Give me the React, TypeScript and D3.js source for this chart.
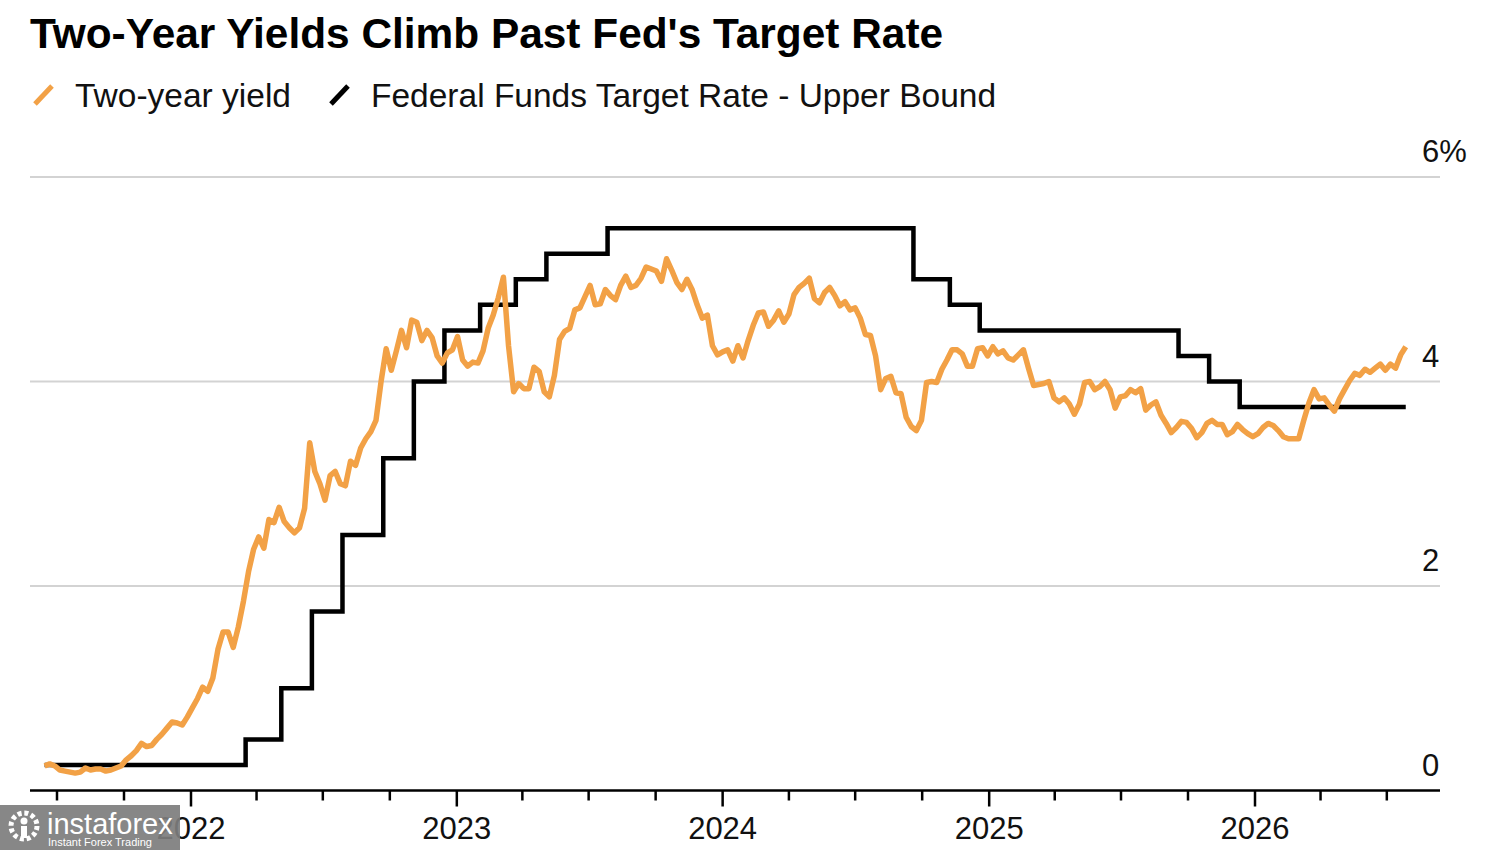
import { useEffect, useRef } from 'react';
import * as d3 from 'd3';

// Two-year Treasury yield, weekly readings starting on the week of 2021-06-14 (%)
const yieldStart = '2021-06-14';
const yieldValues = [
  0.24, 0.26, 0.24, 0.2, 0.19, 0.18, 0.17, 0.18, 0.22, 0.2, 0.21, 0.21, 0.19, 0.2, 0.22, 0.24,
  0.3, 0.34, 0.39, 0.46, 0.43, 0.44, 0.5, 0.55, 0.61, 0.67, 0.66, 0.64, 0.72, 0.81, 0.9, 1.01,
  0.97, 1.1, 1.38, 1.55, 1.55, 1.4, 1.6, 1.85, 2.14, 2.36, 2.48, 2.37, 2.65, 2.62, 2.77, 2.63,
  2.57, 2.52, 2.57, 2.76, 3.4, 3.12, 3.0, 2.84, 3.08, 3.12, 3.0, 2.98, 3.22, 3.18, 3.35, 3.44,
  3.51, 3.62, 4.0, 4.32, 4.11, 4.3, 4.5, 4.33, 4.6, 4.58, 4.4, 4.5, 4.43, 4.25, 4.18, 4.28,
  4.31, 4.44, 4.21, 4.15, 4.19, 4.18, 4.3, 4.52, 4.65, 4.82, 5.02, 4.35, 3.9, 3.98, 3.93, 3.93,
  4.14, 4.1, 3.9, 3.85, 4.06, 4.41, 4.49, 4.52, 4.7, 4.72, 4.83, 4.94, 4.75, 4.76, 4.9, 4.84,
  4.8, 4.94, 5.03, 4.92, 4.94, 5.01, 5.12, 5.1, 5.08, 4.98, 5.2, 5.09, 4.97, 4.9, 5.0, 4.9,
  4.75, 4.62, 4.65, 4.35, 4.26, 4.29, 4.31, 4.2, 4.35, 4.23, 4.4, 4.55, 4.67, 4.68, 4.54, 4.6,
  4.69, 4.58, 4.66, 4.85, 4.92, 4.96, 5.01, 4.81, 4.77, 4.87, 4.92, 4.84, 4.74, 4.78, 4.7, 4.72,
  4.62, 4.46, 4.45, 4.25, 3.92, 4.03, 4.05, 3.89, 3.88, 3.65, 3.56, 3.52, 3.62, 3.99, 4.0, 3.99,
  4.12, 4.21, 4.31, 4.31, 4.27, 4.15, 4.15, 4.32, 4.33, 4.25, 4.34, 4.27, 4.3, 4.23, 4.21, 4.26,
  4.31, 4.13, 3.96, 3.97, 3.98, 4.0, 3.84, 3.8, 3.84, 3.78, 3.68, 3.78, 3.99, 4.0, 3.92, 3.95,
  4.0, 3.92, 3.74, 3.85, 3.86, 3.92, 3.89, 3.93, 3.72, 3.77, 3.8, 3.67, 3.59, 3.5, 3.55, 3.61,
  3.6, 3.54, 3.45, 3.5, 3.59, 3.62, 3.58, 3.58, 3.48, 3.51, 3.58, 3.53, 3.49, 3.46, 3.49, 3.55,
  3.59, 3.57, 3.52, 3.46, 3.44, 3.44, 3.44, 3.62, 3.79, 3.92, 3.83, 3.84, 3.77, 3.71, 3.83, 3.92,
  4.01, 4.08, 4.06, 4.12, 4.09, 4.13, 4.17, 4.11, 4.17, 4.13, 4.26, 4.34,
];

// Federal funds target rate, upper bound: dates of each change and the new level (%)
const fedDates = [
  '2021-06-14', '2022-03-17', '2022-05-05', '2022-06-16', '2022-07-28', '2022-09-22',
  '2022-11-03', '2022-12-15', '2023-02-02', '2023-03-23', '2023-05-04', '2023-07-27',
  '2024-09-19', '2024-11-08', '2024-12-19', '2025-09-18', '2025-10-30', '2025-12-11',
  '2026-07-27',
];
const fedRates = [
  0.25, 0.5, 1.0, 1.75, 2.5, 3.25, 4.0, 4.5, 4.75, 5.0, 5.25, 5.5, 5.0, 4.75, 4.5, 4.25, 4.0,
  3.75, 3.75,
];

const yTicks = [0, 2, 4, 6];
const legendItems = [
  { label: 'Two-year yield', color: '#F2A146' },
  { label: 'Federal Funds Target Rate - Upper Bound', color: '#000000' },
];

const FONT = '"Liberation Sans", Arial, Helvetica, sans-serif';

export default function App() {
  const svgRef = useRef<SVGSVGElement>(null);

  useEffect(() => {
    if (!svgRef.current) return;
    const svg = d3.select(svgRef.current);
    svg.selectAll('*').remove();

    const width = 1500;
    const height = 850;
    const left = 30;
    const right = 1440;

    svg.attr('width', width).attr('height', height);

    const parse = d3.timeParse('%Y-%m-%d');
    const x = d3
      .scaleTime()
      .domain([new Date(2022, 0, 1), new Date(2026, 0, 1)])
      .range([191, 1255]);
    const y = d3.scaleLinear().domain([0, 6]).range([790.5, 177]);

    const start = parse(yieldStart) as Date;
    const yieldData = yieldValues.map((v, i) => ({ date: d3.timeWeek.offset(start, i), value: v }));
    const fedData = fedDates.map((d, i) => ({ date: parse(d) as Date, value: fedRates[i] }));

    // Title
    svg
      .append('text')
      .attr('x', 30)
      .attr('y', 48)
      .attr('font-family', FONT)
      .attr('font-weight', 'bold')
      .attr('font-size', '42.4px')
      .attr('fill', '#000')
      .text("Two-Year Yields Climb Past Fed's Target Rate");

    // Legend
    const legendX = [35, 331];
    legendItems.forEach((item, i) => {
      const g = svg.append('g').attr('transform', `translate(${legendX[i]}, 0)`);
      g.append('line')
        .attr('x1', 0)
        .attr('y1', 104)
        .attr('x2', 17)
        .attr('y2', 86)
        .attr('stroke', item.color)
        .attr('stroke-width', 5);
      g.append('text')
        .attr('x', 40)
        .attr('y', 107)
        .attr('font-family', FONT)
        .attr('font-size', '33.5px')
        .attr('fill', '#111')
        .text(item.label);
    });

    // Grid lines and y labels
    yTicks.forEach((t) => {
      if (t > 0) {
        svg
          .append('line')
          .attr('x1', left)
          .attr('x2', right)
          .attr('y1', y(t))
          .attr('y2', y(t))
          .attr('stroke', '#d3d3d3')
          .attr('stroke-width', 2);
      }
      svg
        .append('text')
        .attr('x', 1422)
        .attr('y', y(t) - 15)
        .attr('font-family', FONT)
        .attr('font-size', '31px')
        .attr('fill', '#111')
        .text(t === 6 ? `${t}%` : `${t}`);
    });

    // X axis
    svg
      .append('line')
      .attr('x1', left)
      .attr('x2', right)
      .attr('y1', y(0))
      .attr('y2', y(0))
      .attr('stroke', '#000')
      .attr('stroke-width', 2.5);

    const quarterTicks = d3.timeMonth.every(3)!.range(x.invert(left), x.invert(right));
    svg
      .selectAll('.tick')
      .data(quarterTicks)
      .join('line')
      .attr('x1', (d) => x(d))
      .attr('x2', (d) => x(d))
      .attr('y1', y(0))
      .attr('y2', (d) => (d.getMonth() === 0 ? y(0) + 16 : y(0) + 10))
      .attr('stroke', '#000')
      .attr('stroke-width', 2.5);

    svg
      .selectAll('.year')
      .data(quarterTicks.filter((d) => d.getMonth() === 0))
      .join('text')
      .attr('x', (d) => x(d))
      .attr('y', 839)
      .attr('text-anchor', 'middle')
      .attr('font-family', FONT)
      .attr('font-size', '31px')
      .attr('fill', '#111')
      .text((d) => d3.timeFormat('%Y')(d));

    // Fed funds step line
    const stepLine = d3
      .line<{ date: Date; value: number }>()
      .x((d) => x(d.date))
      .y((d) => y(d.value))
      .curve(d3.curveStepAfter);
    svg
      .append('path')
      .datum(fedData)
      .attr('d', stepLine)
      .attr('fill', 'none')
      .attr('stroke', '#000')
      .attr('stroke-width', 4.5);

    // Two-year yield line
    const yieldLine = d3
      .line<{ date: Date; value: number }>()
      .x((d) => x(d.date))
      .y((d) => y(d.value));
    svg
      .append('path')
      .datum(yieldData)
      .attr('d', yieldLine)
      .attr('fill', 'none')
      .attr('stroke', '#F2A146')
      .attr('stroke-width', 5.5)
      .attr('stroke-linejoin', 'round');

    // Watermark overlay
    const wm = svg.append('g');
    wm.append('rect')
      .attr('x', 0)
      .attr('y', 805)
      .attr('width', 180)
      .attr('height', 45)
      .attr('fill', '#7d7d7d')
      .attr('opacity', 0.92);
    wm.append('circle')
      .attr('cx', 24)
      .attr('cy', 826)
      .attr('r', 13)
      .attr('fill', 'none')
      .attr('stroke', '#fff')
      .attr('stroke-width', 5)
      .attr('stroke-dasharray', '4 2.8');
    wm.append('circle').attr('cx', 24).attr('cy', 821).attr('r', 3.5).attr('fill', '#fff');
    wm.append('rect').attr('x', 21).attr('y', 826).attr('width', 6).attr('height', 12).attr('fill', '#fff');
    wm.append('text')
      .attr('x', 47)
      .attr('y', 834)
      .attr('font-family', FONT)
      .attr('font-size', '29px')
      .attr('fill', '#fff')
      .text('instaforex');
    wm.append('text')
      .attr('x', 48)
      .attr('y', 846)
      .attr('font-family', FONT)
      .attr('font-size', '11px')
      .attr('fill', '#fff')
      .text('Instant Forex Trading');
  }, []);

  return (
    <div style={{ position: 'absolute', left: 0, top: 0, width: 1500, height: 850, background: '#fff' }}>
      <svg ref={svgRef}></svg>
    </div>
  );
}
